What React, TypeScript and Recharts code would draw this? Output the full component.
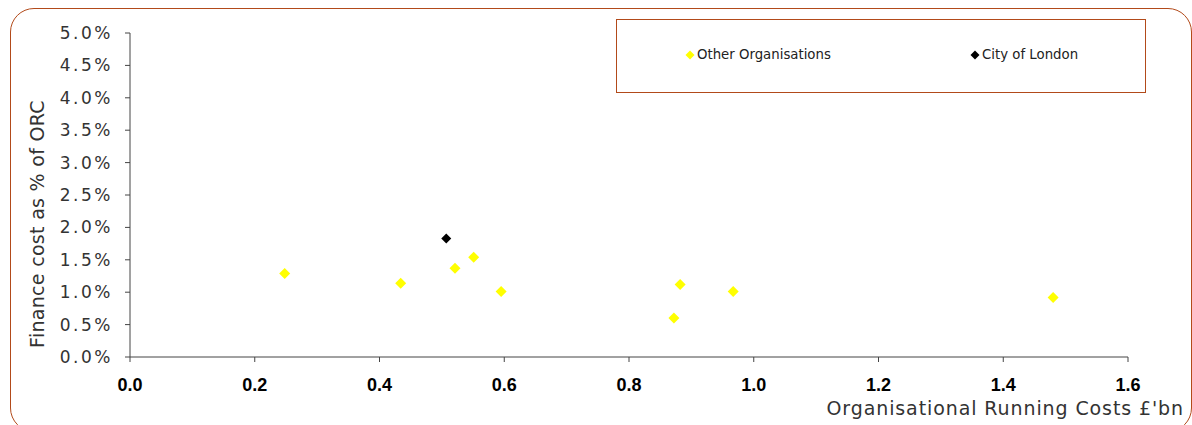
import React from 'react';
import { ScatterChart, Scatter, XAxis, YAxis } from 'recharts';

const xTicks = [0, 0.2, 0.4, 0.6, 0.8, 1.0, 1.2, 1.4, 1.6];
const yTicks = [0, 0.5, 1.0, 1.5, 2.0, 2.5, 3.0, 3.5, 4.0, 4.5, 5.0];

const otherX = [0.248, 0.434, 0.521, 0.551, 0.595, 0.872, 0.882, 0.967, 1.48];
const otherY = [1.29, 1.14, 1.37, 1.54, 1.01, 0.6, 1.12, 1.01, 0.92];
const cityX = [0.507];
const cityY = [1.83];

const seriesNames = ['Other Organisations', 'City of London'];
const seriesColors = ['#FFFF00', '#000000'];

const otherData = otherX.map((x, i) => ({ x, y: otherY[i] }));
const cityData = cityX.map((x, i) => ({ x, y: cityY[i] }));

const BORDER = '#B24A1A';
const FONT = '"DejaVu Sans", Verdana, sans-serif';

const makeDiamond = (color: string, r: number) => (props: any) => {
  const { cx, cy } = props;
  if (cx == null || cy == null) return <g />;
  return (
    <path
      d={`M${cx},${cy - r} L${cx + r},${cy} L${cx},${cy + r} L${cx - r},${cy} Z`}
      fill={color}
      stroke="none"
    />
  );
};

const LegendBox = () => (
  <div
    style={{
      position: 'absolute',
      left: 616,
      top: 19,
      width: 530,
      height: 74,
      border: `1px solid ${BORDER}`,
      boxSizing: 'border-box',
      background: '#fff',
      fontFamily: FONT,
      fontSize: 13.3,
      color: '#222',
    }}
  >
    {seriesNames.map((n, i) => (
      <div
        key={n}
        style={{
          position: 'absolute',
          left: i === 0 ? 68 : 353,
          top: 27,
          display: 'flex',
          alignItems: 'center',
          whiteSpace: 'nowrap',
        }}
      >
        <svg width={10} height={10} style={{ marginRight: 2 }}>
          <path d="M5,0.5 L9.5,5 L5,9.5 L0.5,5 Z" fill={seriesColors[i]} />
        </svg>
        <span>{n}</span>
      </div>
    ))}
  </div>
);

const XTitle = (props: any) => {
  const vb = props.viewBox || {};
  return (
    <text
      x={vb.x + vb.width + 56}
      y={vb.y + 58}
      textAnchor="end"
      fontFamily={FONT}
      fontSize={19}
      letterSpacing={0.9}
      fill="#333"
    >
      Organisational Running Costs £'bn
    </text>
  );
};

const YTitle = () => (
  <text
    x={44}
    y={224}
    textAnchor="middle"
    transform="rotate(-90, 44, 224)"
    fontFamily={FONT}
    fontSize={19}
    letterSpacing={0.3}
    fill="#333"
  >
    Finance cost as % of ORC
  </text>
);

export default function App() {
  return (
    <div style={{ position: 'relative', width: 1192, height: 425, overflow: 'hidden', background: '#fff' }}>
      <style>{`html,body{margin:0;padding:0;overflow:hidden;}`}</style>
      <div
        style={{
          position: 'absolute',
          left: 10,
          top: 8,
          width: 1182,
          height: 424,
          border: `1.5px solid ${BORDER}`,
          borderRadius: 24,
          boxSizing: 'border-box',
        }}
      />
      <div style={{ position: 'absolute', left: 0, top: 0 }}>
        <ScatterChart width={1192} height={425} margin={{ top: 33, right: 64, left: 0, bottom: 0 }}>
          <XAxis
            type="number"
            dataKey="x"
            domain={[0, 1.6]}
            ticks={xTicks}
            interval={0}
            tickFormatter={(v: number) => v.toFixed(1)}
            height={68}
            stroke="#444"
            tickSize={5}
            tickMargin={16}
            tick={{ fontFamily: '"Liberation Sans", Arial, sans-serif', fontWeight: 'bold', fontSize: 18, fill: '#000' }}
            label={<XTitle />}
          />
          <YAxis
            type="number"
            dataKey="y"
            domain={[0, 5]}
            ticks={yTicks}
            interval={0}
            tickFormatter={(v: number) => v.toFixed(1) + '%'}
            width={130}
            stroke="#444"
            tickSize={5}
            tickMargin={12}
            tick={{ fontFamily: FONT, fontSize: 17, fill: '#333', letterSpacing: 2.5 }}
            label={<YTitle />}
          />
          <Scatter
            name={seriesNames[0]}
            data={otherData}
            fill={seriesColors[0]}
            shape={makeDiamond(seriesColors[0], 5.5)}
            isAnimationActive={false}
          />
          <Scatter
            name={seriesNames[1]}
            data={cityData}
            fill={seriesColors[1]}
            shape={makeDiamond(seriesColors[1], 5)}
            isAnimationActive={false}
          />
        </ScatterChart>
      </div>
      <LegendBox />
    </div>
  );
}
